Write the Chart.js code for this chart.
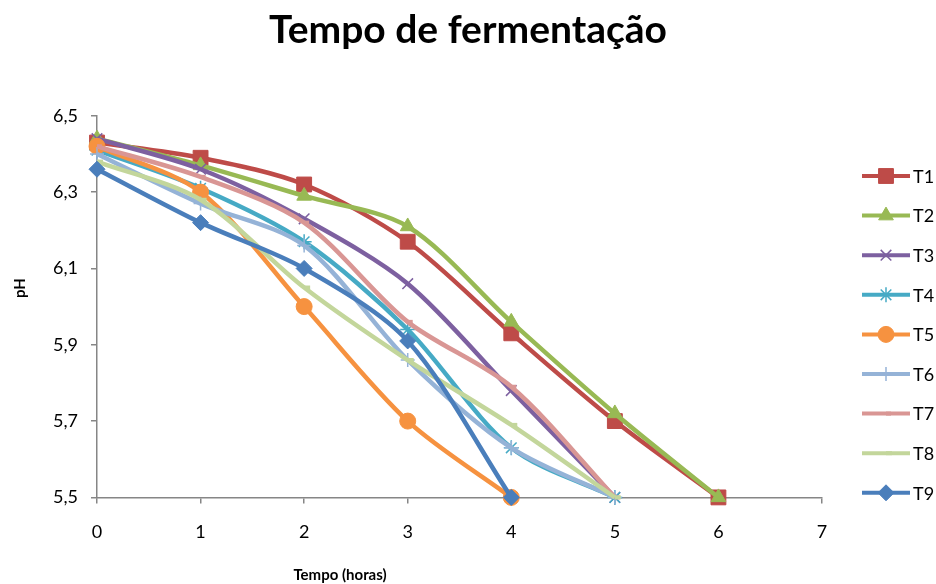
<!DOCTYPE html>
<html>
<head>
<meta charset="utf-8">
<script src="https://cdn.jsdelivr.net/npm/chart.js@4/dist/chart.umd.min.js"></script>
<style>
html,body{margin:0;padding:0;background:#fff;}
#wrap{width:936px;height:584px;position:relative;}
</style>
</head>
<body>
<div id="wrap"><canvas id="c" width="936" height="584"></canvas></div>
<script>
// ---- data ----
const hours = [0, 1, 2, 3, 4, 5, 6];
const seriesNames = ["T1", "T2", "T3", "T4", "T5", "T6", "T7", "T8", "T9"];
const T1 = [6.43, 6.39, 6.32, 6.17, 5.93, 5.70, 5.50];
const T2 = [6.44, 6.37, 6.29, 6.21, 5.96, 5.72, 5.50];
const T3 = [6.44, 6.36, 6.23, 6.06, 5.78, 5.50];
const T4 = [6.41, 6.31, 6.17, 5.94, 5.63, 5.50];
const T5 = [6.42, 6.30, 6.00, 5.70, 5.50];
const T6 = [6.40, 6.27, 6.16, 5.86, 5.63, 5.50];
const T7 = [6.42, 6.34, 6.22, 5.96, 5.79, 5.50];
const T8 = [6.38, 6.28, 6.05, 5.86, 5.69, 5.50];
const T9 = [6.36, 6.22, 6.10, 5.91, 5.50];
const yTickLabels = ["5,5", "5,7", "5,9", "6,1", "6,3", "6,5"];
const xTickLabels = ["0", "1", "2", "3", "4", "5", "6", "7"];
const chartTitle = "Tempo de fermentação";
const xTitle = "Tempo (horas)";
const yTitle = "pH";

const allValues = [T1, T2, T3, T4, T5, T6, T7, T8, T9];
const colors = ["#BE4B48", "#98B954", "#7D60A0", "#46AAC5", "#F69240", "#95B3D7", "#D99694", "#C3D69B", "#4A7EBB"];
const styles = ["rect", "triangle", "crossRot", "star", "circle", "cross", "dash", "dash", "rectRot"];
const radii = [10.5, 8.5, 7.5, 7.5, 8, 7, 5, 6, 8];

const FONT = "Lato, Carlito, Calibri, sans-serif";

const datasets = allValues.map((vals, i) => ({
  label: seriesNames[i],
  data: vals.map((v, j) => ({x: hours[j], y: v})),
  borderColor: colors[i],
  backgroundColor: colors[i],
  borderWidth: 4.5,
  tension: 0.3,
  pointStyle: styles[i],
  pointRadius: radii[i],
  pointBorderWidth: (styles[i] === "crossRot" || styles[i] === "star" || styles[i] === "cross") ? 1.5 : (styles[i] === "dash" ? 4 : 1),
  pointBorderColor: colors[i],
  pointBackgroundColor: colors[i],
  order: 9 - i,
  clip: false
}));

const extrasPlugin = {
  id: 'xlExtras',
  afterDraw(chart) {
    const ctx = chart.ctx;
    const x0 = 862, lineW = 48, y0 = 176, step = 39.6;
    ctx.save();
    datasets.forEach((ds, i) => {
      const y = y0 + i * step;
      ctx.strokeStyle = ds.borderColor;
      ctx.lineWidth = 4;
      ctx.beginPath();
      ctx.moveTo(x0, y);
      ctx.lineTo(x0 + lineW, y);
      ctx.stroke();
      ctx.fillStyle = ds.backgroundColor;
      ctx.strokeStyle = ds.borderColor;
      ctx.lineWidth = ds.pointBorderWidth;
      Chart.helpers.drawPoint(ctx, {pointStyle: ds.pointStyle, radius: ds.pointRadius, rotation: 0, borderWidth: ds.pointBorderWidth}, x0 + lineW / 2, y);
      ctx.fillStyle = "#000";
      ctx.font = "18px " + FONT;
      ctx.textBaseline = "middle";
      ctx.textAlign = "left";
      ctx.fillText(ds.label, x0 + lineW + 3, y + 1);
    });
    // axis titles
    ctx.fillStyle = "#000";
    ctx.font = "bold 15px " + FONT;
    ctx.textAlign = "center";
    ctx.textBaseline = "middle";
    ctx.fillText(xTitle, 340, 575);
    ctx.translate(20, 288);
    ctx.rotate(-Math.PI / 2);
    ctx.fillText(yTitle, 0, 0);
    ctx.restore();
  }
};

new Chart(document.getElementById('c'), {
  type: 'line',
  data: {datasets},
  options: {
    responsive: false,
    animation: false,
    events: [],
    layout: {padding: {left: 0, right: 0, top: 0, bottom: 23}},
    plugins: {
      legend: {display: false},
      tooltip: {enabled: false},
      title: {
        display: true,
        text: chartTitle,
        color: "#000",
        font: {family: FONT, size: 39, weight: "bold"},
        padding: {top: 7, bottom: 62}
      }
    },
    scales: {
      x: {
        type: 'linear',
        min: 0, max: 7,
        afterBuildTicks(scale) { scale.ticks = xTickLabels.map((t, i) => ({value: i})); },
        ticks: {
          color: "#000",
          padding: 18,
          font: {family: FONT, size: 18},
          maxRotation: 0,
          callback: (v, i) => xTickLabels[i]
        },
        grid: {drawOnChartArea: false, drawTicks: true, tickLength: 6, color: "#868686", lineWidth: 1.5},
        border: {color: "#868686", width: 1.5}
      },
      y: {
        min: 5.5, max: 6.5,
        afterBuildTicks(scale) { scale.ticks = yTickLabels.map((t, i) => ({value: 5.5 + i * 0.2})); },
        afterFit(scale) { scale.width = 97; },
        ticks: {
          color: "#000",
          padding: 13,
          font: {family: FONT, size: 18},
          callback: (v, i) => yTickLabels[i]
        },
        grid: {drawOnChartArea: false, drawTicks: true, tickLength: 6, color: "#868686", lineWidth: 1.5},
        border: {color: "#868686", width: 1.5}
      },
      legendSpace: {
        type: 'linear',
        position: 'right',
        display: true,
        afterFit(scale) { scale.width = 114; },
        ticks: {display: false},
        grid: {display: false, drawTicks: false},
        border: {display: false}
      }
    }
  },
  plugins: [extrasPlugin]
});
</script>
</body>
</html>
